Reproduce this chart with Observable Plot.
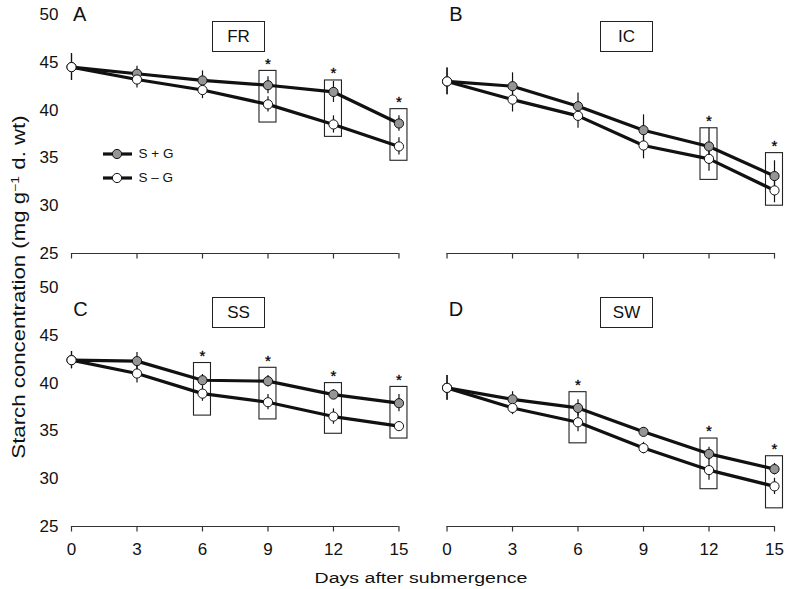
<!DOCTYPE html>
<html><head><meta charset="utf-8">
<script src="https://cdn.jsdelivr.net/npm/d3@7"></script>
<script src="https://cdn.jsdelivr.net/npm/@observablehq/plot@0.6"></script>
<style>
body{margin:0;background:#fff;}
#wrap{position:relative;width:789px;height:589px;font-family:"Liberation Sans",Arial,Helvetica,sans-serif;color:#111;overflow:hidden;background:#fff;}
.abs{position:absolute;line-height:1;white-space:nowrap;}
.letter{font-size:20px;transform:translate(-50%,-50%);}
.tbox{border:1px solid #222;box-sizing:border-box;display:flex;align-items:center;justify-content:center;font-size:17px;background:#fff;}
.leg{font-size:13.5px;transform:translateY(-50%);}
</style></head>
<body><div id="wrap"></div>
<script>
// ---- data ----
const days = [0, 3, 6, 9, 12, 15];
const yTicks = [25, 30, 35, 40, 45, 50];
const seriesNames = ["S + G", "S – G"];
const panelNames = ["FR", "IC", "SS", "SW"];
const panelLetters = ["A", "B", "C", "D"];

// FR (A)
const frPlus = [44.5, 43.8, 43.1, 42.6, 41.9, 38.6];
const frPlusErr = [1.4, 0.8, 1.0, 0.9, 1.1, 0.8];
const frMinus = [44.5, 43.2, 42.1, 40.6, 38.5, 36.2];
const frMinusErr = [1.4, 0.9, 0.9, 0.8, 0.9, 0.9];
const frSigDays = [9, 12, 15];
const frBoxLo = [38.7, 37.2, 34.7];
const frBoxHi = [44.1, 43.1, 40.1];

// IC (B)
const icPlus = [43.0, 42.5, 40.4, 37.9, 36.2, 33.1];
const icPlusErr = [1.4, 1.4, 1.4, 1.6, 1.9, 1.6];
const icMinus = [43.0, 41.1, 39.4, 36.3, 34.9, 31.6];
const icMinusErr = [1.4, 1.3, 1.3, 1.4, 1.3, 1.3];
const icSigDays = [12, 15];
const icBoxLo = [32.7, 30.0];
const icBoxHi = [38.1, 35.5];

// SS (C)
const ssPlus = [42.4, 42.3, 40.3, 40.2, 38.8, 37.9];
const ssPlusErr = [0.9, 0.9, 0.6, 0.6, 0.5, 0.9];
const ssMinus = [42.4, 41.0, 38.9, 38.0, 36.5, 35.5];
const ssMinusErr = [0.9, 1.0, 0.8, 0.8, 0.8, 0.3];
const ssSigDays = [6, 9, 12, 15];
const ssBoxLo = [36.6, 36.2, 34.7, 34.2];
const ssBoxHi = [42.1, 41.6, 40.0, 39.6];

// SW (D)
const swPlus = [39.5, 38.3, 37.4, 34.9, 32.6, 31.0];
const swPlusErr = [1.3, 0.8, 0.85, 0.45, 0.7, 0.6];
const swMinus = [39.5, 37.4, 35.9, 33.2, 30.9, 29.2];
const swMinusErr = [1.3, 0.7, 1.0, 0.6, 1.05, 0.85];
const swSigDays = [6, 12, 15];
const swBoxLo = [33.7, 28.9, 26.9];
const swBoxHi = [39.05, 34.2, 32.35];

// ---- build tables ----
const panels = [
  {name: panelNames[0], letter: panelLetters[0], col: 0, row: 0, plus: frPlus, plusErr: frPlusErr, minus: frMinus, minusErr: frMinusErr, sig: frSigDays, lo: frBoxLo, hi: frBoxHi},
  {name: panelNames[1], letter: panelLetters[1], col: 1, row: 0, plus: icPlus, plusErr: icPlusErr, minus: icMinus, minusErr: icMinusErr, sig: icSigDays, lo: icBoxLo, hi: icBoxHi},
  {name: panelNames[2], letter: panelLetters[2], col: 0, row: 1, plus: ssPlus, plusErr: ssPlusErr, minus: ssMinus, minusErr: ssMinusErr, sig: ssSigDays, lo: ssBoxLo, hi: ssBoxHi},
  {name: panelNames[3], letter: panelLetters[3], col: 1, row: 1, plus: swPlus, plusErr: swPlusErr, minus: swMinus, minusErr: swMinusErr, sig: swSigDays, lo: swBoxLo, hi: swBoxHi}
];
const points = panels.flatMap(p => [
  ...days.map((d, i) => ({col: p.col, row: p.row, day: d, series: seriesNames[0], value: p.plus[i], err: p.plusErr[i]})),
  ...days.map((d, i) => ({col: p.col, row: p.row, day: d, series: seriesNames[1], value: p.minus[i], err: p.minusErr[i]}))
]);
const boxes = panels.flatMap(p => p.sig.map((d, i) => ({col: p.col, row: p.row, day: d, lo: p.lo[i], hi: p.hi[i]})));

const ink = "#111";
const chart = Plot.plot({
  width: 789, height: 589,
  marginLeft: 71, marginRight: 15, marginTop: 14, marginBottom: 63,
  style: {fontFamily: '"Liberation Sans", Arial, Helvetica, sans-serif', fontSize: "17px", color: ink, background: "transparent", overflow: "visible"},
  fx: {domain: [0, 1], padding: 0.128, axis: null, round: false},
  fy: {domain: [0, 1], padding: 0.1245, axis: null, round: false},
  x: {domain: [0, 15]},
  y: {domain: [25, 50]},
  color: {domain: seriesNames, range: ["#959595", "#ffffff"]},
  marks: [
    Plot.ruleY([25], {stroke: "#333", strokeWidth: 1.2}),
    Plot.axisX({ticks: days, tickSize: 5.5, tickFormat: () => "", facetAnchor: null, stroke: "#333", strokeWidth: 1.2, label: null}),
    Plot.axisX({ticks: days, tickSize: 0, tickPadding: 16, label: null, fill: ink}),
    Plot.axisY({ticks: yTicks, tickSize: 0, tickPadding: 13, label: null, fill: ink}),
    Plot.rect(boxes, {fx: "col", fy: "row", x1: "day", x2: "day", y1: "lo", y2: "hi", insetLeft: -8.5, insetRight: -8.5, fill: "none", stroke: "#222", strokeWidth: 1.1}),
    Plot.text(boxes, {fx: "col", fy: "row", x: "day", y: "hi", text: () => "*", dy: -7, fontSize: 15, fill: "#000", stroke: "#000", strokeWidth: 0.3}),
    Plot.ruleX(points, {fx: "col", fy: "row", x: "day", y1: d => d.value - d.err, y2: d => d.value + d.err, stroke: ink, strokeWidth: 1.2}),
    Plot.line(points, {fx: "col", fy: "row", x: "day", y: "value", z: "series", stroke: ink, strokeWidth: 3.2}),
    Plot.dot(points, {fx: "col", fy: "row", x: "day", y: "value", r: 4.6, fill: "series", stroke: ink, strokeWidth: 1})
  ]
});
const wrap = document.getElementById("wrap");
wrap.appendChild(chart);

// ---- overlays: panel letters, panel title boxes, legend, axis titles ----
function add(html, cls, style) {
  const el = document.createElement("div");
  el.className = "abs " + cls;
  el.innerHTML = html;
  Object.assign(el.style, style);
  wrap.appendChild(el);
  return el;
}
const letterPos = [[79.7, 13.5], [456, 13.5], [80.5, 309], [456, 309]];
const boxPos = [[212, 21], [600, 21], [212, 297], [600, 297]];
panels.forEach((p, i) => {
  add(p.letter, "letter", {left: letterPos[i][0] + "px", top: letterPos[i][1] + "px"});
  add(p.name, "tbox", {left: boxPos[i][0] + "px", top: boxPos[i][1] + "px", width: "53px", height: "31px"});
});
const legFill = ["#959595", "#ffffff"];
const legY = [154, 177.7];
seriesNames.forEach((s, i) => {
  add(`<svg width="32" height="14" style="display:block"><line x1="1" x2="30" y1="7" y2="7" stroke="${ink}" stroke-width="3.2"/><circle cx="15" cy="7" r="4.6" fill="${legFill[i]}" stroke="${ink}" stroke-width="1"/></svg>`,
    "", {left: "101.5px", top: (legY[i] - 7) + "px"});
  add(s, "leg", {left: "138.5px", top: legY[i] + "px"});
});
add("Starch concentration (mg g<sup style=\"font-size:11px;vertical-align:6px;line-height:0\">−1</sup> d. wt)", "",
  {left: "20px", top: "287px", fontSize: "17.5px", transform: "translate(-50%,-50%) rotate(-90deg) scaleX(1.27)"});
add("Days after submergence", "", {left: "421px", top: "578px", fontSize: "15.5px", transform: "translate(-50%,-50%) scaleX(1.26)"});
</script>
</body></html>
